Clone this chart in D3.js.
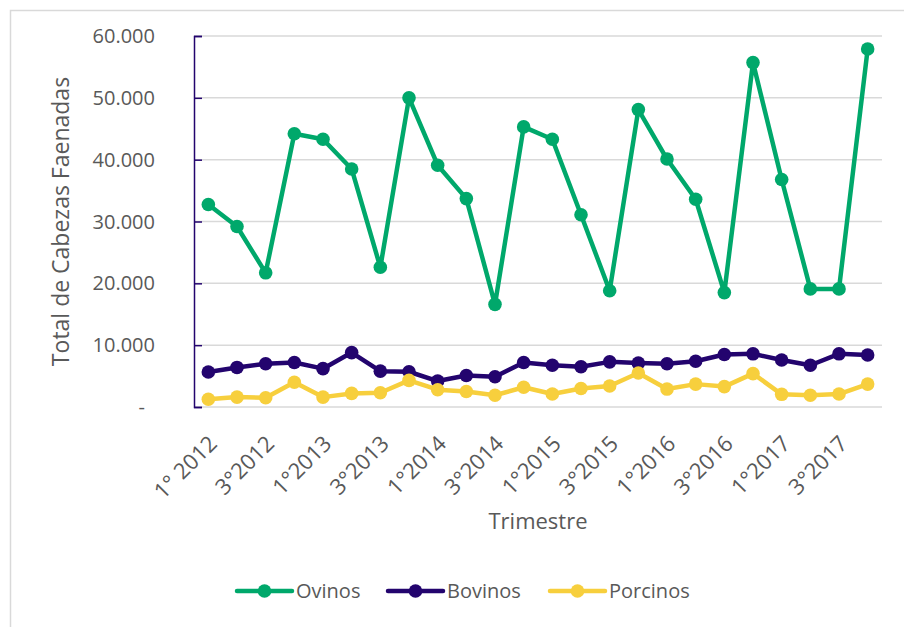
<!DOCTYPE html>
<html lang="es">
<head>
<meta charset="utf-8">
<script src="https://d3js.org/d3.v7.min.js"></script>
<style>
  body { margin: 0; background: #fff; }
  svg { font-family: "Open Sans", sans-serif; }
  .tick-label { fill: #595959; font-size: 20px; }
</style>
</head>
<body>
<svg width="904" height="627"></svg>
<script>
// trimestres 2012-2017
var quarters = [
  "1° 2012", "2°2012", "3°2012", "4°2012",
  "1°2013", "2°2013", "3°2013", "4°2013",
  "1°2014", "2°2014", "3°2014", "4°2014",
  "1°2015", "2°2015", "3°2015", "4°2015",
  "1°2016", "2°2016", "3°2016", "4°2016",
  "1°2017", "2°2017", "3°2017", "4°2017"
];
var ovinos = [32750, 29200, 21700, 44200, 43300, 38500, 22600, 50000, 39100, 33700, 16600, 45300,
              43300, 31100, 18800, 48100, 40100, 33600, 18500, 55700, 36800, 19100, 19100, 57900];
var bovinos = [5650, 6400, 7000, 7200, 6200, 8800, 5800, 5700, 4200, 5100, 4900, 7200,
               6750, 6500, 7300, 7100, 7000, 7400, 8500, 8600, 7600, 6750, 8600, 8400];
var porcinos = [1250, 1600, 1500, 4000, 1600, 2200, 2300, 4300, 2800, 2500, 1900, 3200,
                2100, 3000, 3400, 5500, 2900, 3700, 3300, 5400, 2050, 1900, 2100, 3700];
var yTicks = [0, 10000, 20000, 30000, 40000, 50000, 60000];

var series = [
  { name: "Ovinos", values: ovinos, color: "#00a86b" },
  { name: "Bovinos", values: bovinos, color: "#23046e" },
  { name: "Porcinos", values: porcinos, color: "#f7cf3d" }
];

var svg = d3.select("svg");
var plotLeft = 194, plotRight = 882, plotTop = 36, plotBottom = 407;
var textColor = "#595959";

// borde del area del grafico
svg.append("rect")
  .attr("x", 10.5).attr("y", 10.5)
  .attr("width", 1000).attr("height", 1000)
  .attr("fill", "none")
  .attr("stroke", "#d9d9d9")
  .attr("stroke-width", 1.5);

var x = d3.scaleBand().domain(quarters).range([plotLeft, plotRight]);
var y = d3.scaleLinear().domain([0, 60000]).range([plotBottom, plotTop]);
var xc = function (d) { return x(d) + x.bandwidth() / 2; };

// grilla
svg.append("g")
  .selectAll("line")
  .data(yTicks)
  .enter()
  .append("line")
  .attr("x1", plotLeft).attr("x2", plotRight)
  .attr("y1", function (d) { return y(d); })
  .attr("y2", function (d) { return y(d); })
  .attr("stroke", "#d9d9d9")
  .attr("stroke-width", 1.5);

// eje y
var yAxis = d3.axisRight(y)
  .tickValues(yTicks)
  .tickSize(8)
  .tickFormat("");
var gy = svg.append("g")
  .attr("transform", "translate(" + plotLeft + ",0)")
  .call(yAxis);
gy.select(".domain").attr("stroke", "#23046e").attr("stroke-width", 1.5);
gy.selectAll(".tick line").attr("stroke", "#23046e").attr("stroke-width", 1.5);

var fmt = function (d) {
  return d === 0 ? "-" : d3.format(",")(d).replace(/,/g, ".");
};
svg.append("g")
  .selectAll("text")
  .data(yTicks)
  .enter()
  .append("text")
  .attr("class", "tick-label")
  .attr("x", function (d) { return d === 0 ? 145 : 155; })
  .attr("y", function (d) { return y(d); })
  .attr("dy", "0.35em")
  .attr("text-anchor", "end")
  .text(fmt);

// eje x
var xAxis = d3.axisBottom(x)
  .tickSize(0)
  .tickFormat(function (d, i) { return i % 2 === 0 ? d : ""; });
var gx = svg.append("g")
  .attr("transform", "translate(0," + plotBottom + ")")
  .call(xAxis);
gx.select(".domain").remove();
gx.selectAll(".tick text")
  .attr("class", "tick-label")
  .attr("fill", textColor)
  .style("font-size", "22px")
  .style("font-family", "'Open Sans', sans-serif")
  .attr("text-anchor", "end")
  .attr("y", 0)
  .attr("dy", 0)
  .attr("transform", "translate(10,38) rotate(-45)");

// titulos de ejes
svg.append("text")
  .attr("transform", "translate(69," + (plotTop + plotBottom) / 2 + ") rotate(-90)")
  .attr("text-anchor", "middle")
  .attr("fill", textColor)
  .style("font-size", "23px")
  .text("Total de Cabezas Faenadas");

svg.append("text")
  .attr("x", (plotLeft + plotRight) / 2)
  .attr("y", 529)
  .attr("text-anchor", "middle")
  .attr("fill", textColor)
  .style("font-size", "22px")
  .text("Trimestre");

// lineas
var line = d3.line()
  .x(function (d, i) { return xc(quarters[i]); })
  .y(function (d) { return y(d); });

series.forEach(function (s) {
  var g = svg.append("g");
  g.append("path")
    .datum(s.values)
    .attr("d", line)
    .attr("fill", "none")
    .attr("stroke", s.color)
    .attr("stroke-width", 4.5)
    .attr("stroke-linejoin", "round");
  g.selectAll("circle")
    .data(s.values)
    .enter()
    .append("circle")
    .attr("cx", function (d, i) { return xc(quarters[i]); })
    .attr("cy", function (d) { return y(d); })
    .attr("r", 6.8)
    .attr("fill", s.color);
});

// leyenda
var legendX = [237, 388, 550];
var legend = svg.append("g")
  .selectAll("g")
  .data(series)
  .enter()
  .append("g")
  .attr("transform", function (d, i) { return "translate(" + legendX[i] + ",591)"; });
legend.append("line")
  .attr("x1", 0).attr("x2", 55)
  .attr("stroke", function (d) { return d.color; })
  .attr("stroke-width", 4.5)
  .attr("stroke-linecap", "round");
legend.append("circle")
  .attr("cx", 27.5)
  .attr("r", 6.8)
  .attr("fill", function (d) { return d.color; });
legend.append("text")
  .attr("x", 59)
  .attr("dy", "0.35em")
  .attr("fill", textColor)
  .style("font-size", "20px")
  .text(function (d) { return d.name; });
</script>
</body>
</html>
